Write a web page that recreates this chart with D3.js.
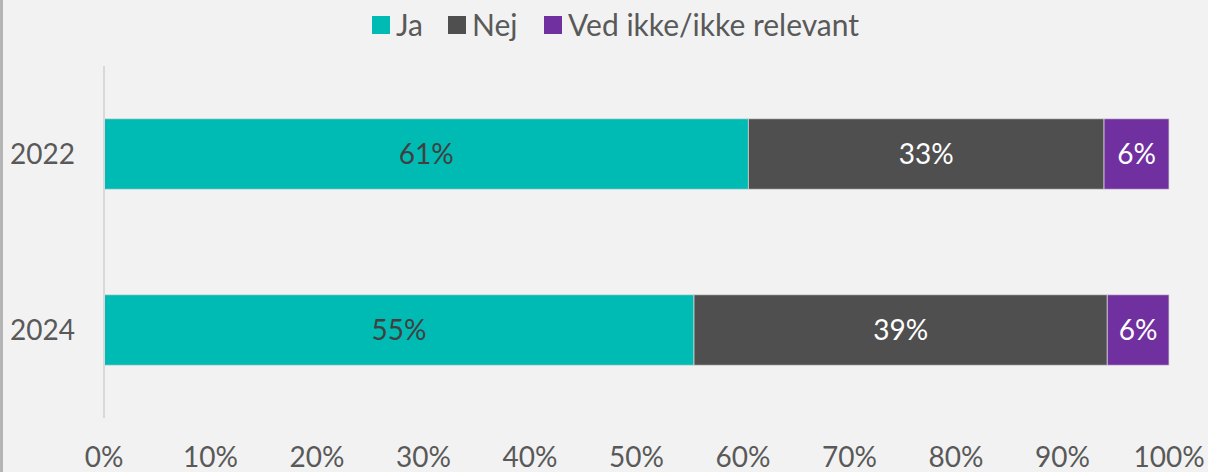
<!DOCTYPE html>
<html>
<head>
<meta charset="utf-8">
<script src="https://cdn.jsdelivr.net/npm/d3@7"></script>
<style>
  html, body { margin: 0; padding: 0; background: #f2f2f2; }
  svg { display: block; font-family: Lato, "Open Sans", sans-serif; }
</style>
</head>
<body>
<script>
var years = ["2022", "2024"];
var seriesNames = ["Ja", "Nej", "Ved ikke/ikke relevant"];
var seriesColors = ["#00bbb4", "#4f4f4f", "#7030a0"];
var labelColors = ["#404040", "#ffffff", "#ffffff"];
var jaValues = [60.5, 55.4];
var nejValues = [33.4, 38.8];
var vedIkkeValues = [6.1, 5.8];
var xTicks = [0, 10, 20, 30, 40, 50, 60, 70, 80, 90, 100];

var width = 1208, height = 472;
var margin = {left: 104, right: 39, top: 66, bottom: 54};

var svg = d3.select("body").append("svg")
    .attr("width", width)
    .attr("height", height);

svg.append("rect")
    .attr("width", width).attr("height", height)
    .attr("fill", "#f2f2f2");

// left frame edge
svg.append("rect")
    .attr("x", 0).attr("y", 0)
    .attr("width", 3).attr("height", height)
    .attr("fill", "#b4b4b4");

var x = d3.scaleLinear()
    .domain([0, 100])
    .range([margin.left, width - margin.right]);

var y = d3.scaleBand()
    .domain(years)
    .range([margin.top, height - margin.bottom])
    .paddingInner(0.6)
    .paddingOuter(0.3);

// build stacked rows
var rows = years.map(function(yr, i) {
    return {year: yr, Ja: jaValues[i], Nej: nejValues[i], Ved: vedIkkeValues[i]};
});
var stacked = d3.stack().keys(["Ja", "Nej", "Ved"])(rows);

var layers = svg.selectAll(".layer")
    .data(stacked)
    .enter().append("g")
    .attr("class", "layer");

layers.selectAll("rect")
    .data(function(d) { return d; })
    .enter().append("rect")
    .attr("x", function(d) { return x(d[0]); })
    .attr("y", function(d) { return y(d.data.year); })
    .attr("width", function(d) { return x(d[1]) - x(d[0]); })
    .attr("height", y.bandwidth())
    .attr("fill", function(d) { return seriesColors[d3.select(this.parentNode).datum().index]; })
    .attr("stroke", "#d9d9d9")
    .attr("stroke-width", 0.75);

layers.selectAll("text")
    .data(function(d) { return d; })
    .enter().append("text")
    .attr("x", function(d) { return (x(d[0]) + x(d[1])) / 2; })
    .attr("y", function(d) { return y(d.data.year) + y.bandwidth() / 2; })
    .attr("dy", "0.36em")
    .attr("text-anchor", "middle")
    .style("font-size", "28px")
    .attr("fill", function(d) { return labelColors[d3.select(this.parentNode).datum().index]; })
    .text(function(d) { return Math.round(d[1] - d[0]) + "%"; });

// y axis line
svg.append("line")
    .attr("x1", x(0)).attr("x2", x(0))
    .attr("y1", margin.top).attr("y2", height - margin.bottom)
    .attr("stroke", "#d9d9d9")
    .attr("stroke-width", 2);

// category labels
svg.selectAll(".ylab")
    .data(years)
    .enter().append("text")
    .attr("class", "ylab")
    .attr("x", 75)
    .attr("y", function(d) { return y(d) + y.bandwidth() / 2; })
    .attr("dy", "0.36em")
    .attr("text-anchor", "end")
    .style("font-size", "28px")
    .attr("fill", "#595959")
    .text(function(d) { return d; });

// x tick labels
svg.selectAll(".xlab")
    .data(xTicks)
    .enter().append("text")
    .attr("class", "xlab")
    .attr("x", function(d) { return x(d); })
    .attr("y", 467)
    .attr("text-anchor", "middle")
    .style("font-size", "28px")
    .attr("fill", "#595959")
    .text(function(d) { return d + "%"; });

// legend
var legendX = [372, 448, 544];
var legend = svg.selectAll(".legend")
    .data(seriesNames)
    .enter().append("g")
    .attr("class", "legend")
    .attr("transform", function(d, i) { return "translate(" + legendX[i] + ",16)"; });

legend.append("rect")
    .attr("width", 18).attr("height", 18)
    .attr("fill", function(d, i) { return seriesColors[i]; });

legend.append("text")
    .attr("x", 24)
    .attr("y", 9)
    .attr("dy", "0.36em")
    .style("font-size", "30px")
    .attr("fill", "#595959")
    .text(function(d) { return d; });
</script>
</body>
</html>
